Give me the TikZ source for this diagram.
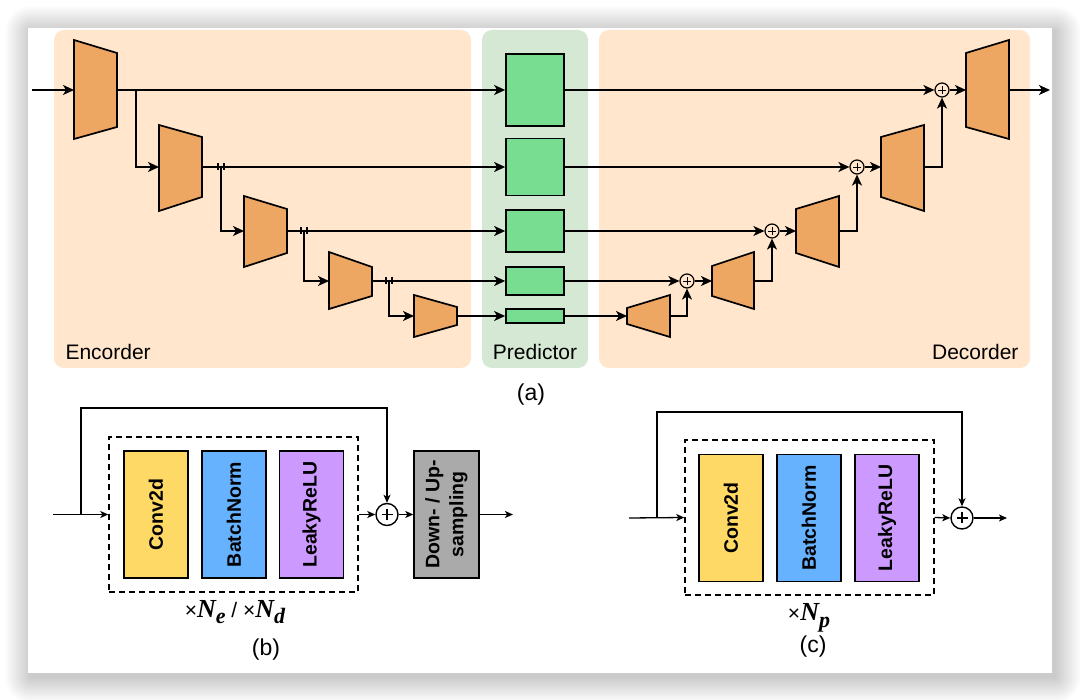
\documentclass[tikz,border=0pt]{standalone}
\usepackage{fontspec}
\setmainfont{Liberation Sans}
\newfontfamily\tnr{Liberation Serif}
\usetikzlibrary{arrows.meta,calc}
\definecolor{peach}{HTML}{FFE6CC}
\definecolor{sage}{HTML}{D5E8D4}
\definecolor{trap}{HTML}{EEA663}
\definecolor{pgreen}{HTML}{78DC91}
\definecolor{cyell}{HTML}{FFD966}
\definecolor{cblue}{HTML}{66B2FF}
\definecolor{cpurp}{HTML}{CC99FF}
\definecolor{cgray}{HTML}{AAAAAA}
\newcommand{\myNN}[2]{{\tnr\bfseries\itshape\fontsize{26}{30}\selectfont #1\raisebox{-6.5pt}{\fontsize{22}{26}\selectfont #2}}}
\begin{document}
\begin{tikzpicture}[x=1pt,y=-1pt,
  wire/.style={line width=1.6pt},
  arrA/.style={wire,-{Stealth[length=11pt,width=10pt,inset=3pt]}},
  wireB/.style={line width=1.3pt},
  arrB/.style={wireB,-{Stealth[length=8pt,width=7pt,inset=2pt]}},
  trapz/.style={fill=trap,draw=black,line width=1.7pt},
  pbox/.style={draw,fill=pgreen,line width=1.7pt,minimum width=58pt,inner sep=0pt},
  sumA/.style={circle,draw,line width=1.2pt,minimum size=14pt,inner sep=0pt,
    path picture={\draw[line width=0.9pt] (path picture bounding box.center) ++(-4pt,0pt) -- ++(8pt,0pt)
      (path picture bounding box.center) ++(0pt,-4pt) -- ++(0pt,8pt);}},
  sumB/.style={circle,draw,line width=1.4pt,minimum size=22pt,inner sep=0pt,
    path picture={\draw[line width=1.6pt] (path picture bounding box.center) ++(-5.5pt,0pt) -- ++(11pt,0pt)
      (path picture bounding box.center) ++(0pt,-5.5pt) -- ++(0pt,11pt);}},
  blk/.style={draw,line width=1.4pt,minimum width=64pt,minimum height=127pt,inner sep=0pt,
    font=\fontsize{19.5}{24}\selectfont\bfseries},
  dbox/.style={draw,line width=1.4pt,dash pattern=on 6pt off 4pt,inner sep=0pt},
  bglab/.style={font=\fontsize{21}{25}\selectfont},
  caplab/.style={font=\fontsize{23}{27}\selectfont}
]
\useasboundingbox (0,0) rectangle (1080,700);
\fill[white] (0,0) rectangle (1080,700);
% card shadow
\foreach \i in {1,...,26}{
  \fill[black,opacity=0.009,rounded corners=\i pt] (28-\i+3,28-\i+4) rectangle (1052+\i+3,673+\i+4);
}
\fill[white] (28,28) rectangle (1052,673);

% backgrounds
\fill[peach,rounded corners=10pt] (54,30) rectangle (471,368);
\fill[sage,rounded corners=10pt] (482,30) rectangle (588,368);
\fill[peach,rounded corners=10pt] (599,30) rectangle (1030,368);
\node[bglab,anchor=west] (lenc) at (62,352) {Encorder};
\node[bglab] (lpred) at (535,352) {Predictor};
\node[bglab,anchor=east] (ldec) at (1022,352) {Decorder};
\node[caplab] (la) at (531,395) {(a)};

% encoder trapezoids
\draw[trapz] (74,40) -- (117,53) -- (117,127) -- (74,139) -- cycle;
\draw[trapz] (159,125) -- (202,137) -- (202,197) -- (159,211) -- cycle;
\draw[trapz] (244,196) -- (287,209) -- (287,253) -- (244,267) -- cycle;
\draw[trapz] (329,252) -- (372,267) -- (372,296) -- (329,309) -- cycle;
\draw[trapz] (414,295) -- (457,307) -- (457,325) -- (414,337) -- cycle;
\coordinate (e1i) at (74,90);   \coordinate (e1o) at (117,90);
\coordinate (e2i) at (159,167); \coordinate (e2o) at (202,167);
\coordinate (e3i) at (244,231); \coordinate (e3o) at (287,231);
\coordinate (e4i) at (329,281); \coordinate (e4o) at (372,281);
\coordinate (e5i) at (414,316); \coordinate (e5o) at (457,316);

% decoder trapezoids
\draw[trapz] (627,308) -- (670,295) -- (670,337) -- (627,324) -- cycle;
\draw[trapz] (712,266) -- (754,252) -- (754,309) -- (712,296) -- cycle;
\draw[trapz] (796,209) -- (839,196) -- (839,267) -- (796,253) -- cycle;
\draw[trapz] (881,137) -- (924,125) -- (924,211) -- (881,197) -- cycle;
\draw[trapz] (966,53) -- (1009,40) -- (1009,139) -- (966,127) -- cycle;
\coordinate (d5i) at (627,316); \coordinate (d5o) at (670,316);
\coordinate (d4i) at (712,281); \coordinate (d4o) at (754,281);
\coordinate (d3i) at (796,231); \coordinate (d3o) at (839,231);
\coordinate (d2i) at (881,167); \coordinate (d2o) at (924,167);
\coordinate (d1i) at (966,90);  \coordinate (d1o) at (1009,90);

% predictor boxes
\node[pbox,minimum height=72pt] (p1) at (535,90) {};
\node[pbox,minimum height=57pt] (p2) at (535,167) {};
\node[pbox,minimum height=42pt] (p3) at (535,231) {};
\node[pbox,minimum height=28pt] (p4) at (535,281) {};
\node[pbox,minimum height=14pt] (p5) at (535,316) {};

% sums
\node[sumA] (s1) at (687,281) {};
\node[sumA] (s2) at (772,231) {};
\node[sumA] (s3) at (857,167) {};
\node[sumA] (s4) at (942,90) {};

% encoder wiring
\coordinate (in0) at (32,90);
\coordinate (out0) at (1050,90);
\coordinate (b1) at (136,90);
\coordinate (b2) at (221,167);
\coordinate (b3) at (304,231);
\coordinate (b4) at (389,281);
\draw[arrA] (in0) -- (e1i);
\draw[arrA] (e1o) -- (p1.west);
\draw[arrA] (b1) |- (e2i);
\draw[arrA] (e2o) -- (p2.west);
\draw[arrA] (b2) |- (e3i);
\draw[arrA] (e3o) -- (p3.west);
\draw[arrA] (b3) |- (e4i);
\draw[arrA] (e4o) -- (p4.west);
\draw[arrA] (b4) |- (e5i);
\draw[arrA] (e5o) -- (p5.west);
% jump ticks
\foreach \tx/\ty in {218/167,224/167,301/231,307/231,386/281,392/281}{
  \draw[line width=1.2pt] (\tx,\ty-3.5) -- (\tx,\ty+3.5);
}

% decoder wiring
\draw[arrA] (p5.east) -- (d5i);
\draw[arrA] (d5o) -| (s1.south);
\draw[arrA] (p4.east) -- (s1.west);
\draw[arrA] (s1.east) -- (d4i);
\draw[arrA] (d4o) -| (s2.south);
\draw[arrA] (p3.east) -- (s2.west);
\draw[arrA] (s2.east) -- (d3i);
\draw[arrA] (d3o) -| (s3.south);
\draw[arrA] (p2.east) -- (s3.west);
\draw[arrA] (s3.east) -- (d2i);
\draw[arrA] (d2o) -| (s4.south);
\draw[arrA] (p1.east) -- (s4.west);
\draw[arrA] (s4.east) -- (d1i);
\draw[arrA] (d1o) -- (out0);

% ---------- (b) ----------
\node[dbox,minimum width=249pt,minimum height=155pt] (dbb) at (233.5,514.5) {};
\node[blk,fill=cyell] (cb1) at (156,514.5) {\rotatebox{90}{Conv2d}};
\node[blk,fill=cblue] (cb2) at (234,514.5) {\rotatebox{90}{BatchNorm}};
\node[blk,fill=cpurp] (cb3) at (311.5,514.5) {\rotatebox{90}{LeakyReLU}};
\node[blk,fill=cgray,minimum width=65pt] (samp) at (446.5,514.5)
  {\rotatebox{90}{\begin{tabular}{@{}c@{}}Down- / Up-\\sampling\end{tabular}}};
\node[sumB] (sb) at (387,514.5) {};
\coordinate (bin) at (53,514.5);
\coordinate (bbr) at (81,514.5);
\coordinate (bup) at (81,408);
\coordinate (bout) at (513,514.5);
\draw[arrB] (bin) -- (dbb.west);
\draw[arrB] (bbr) -- (bup) -| (sb.north);
\draw[arrB] (dbb.east) -- (sb.west);
\draw[arrB] (sb.east) -- (samp.west);
\draw[arrB] (samp.east) -- (bout);
\node (lbN) at (235,612) {\fontsize{21}{25}\selectfont ×\myNN{N}{e} / ×\myNN{N}{d}};
\node[caplab] (lb) at (266,650) {(b)};

% ---------- (c) ----------
\node[dbox,minimum width=249pt,minimum height=155pt] (dbc) at (809.5,517.5) {};
\node[blk,fill=cyell] (cc1) at (731,518) {\rotatebox{90}{Conv2d}};
\node[blk,fill=cblue] (cc2) at (809,518) {\rotatebox{90}{BatchNorm}};
\node[blk,fill=cpurp] (cc3) at (887,518) {\rotatebox{90}{LeakyReLU}};
\node[sumB] (sc) at (962,518) {};
\coordinate (cin) at (629,518);
\coordinate (cbr) at (657,518);
\coordinate (cup) at (657,412);
\coordinate (cout) at (1007,518);
\draw[arrB] (cin) -- (dbc.west);
\draw[arrB] (cbr) -- (cup) -| (sc.north);
\draw[arrB] (dbc.east) -- (sc.west);
\draw[arrB] (sc.east) -- (cout);
\node (lcN) at (809,618) {\fontsize{21}{25}\selectfont ×\myNN{N}{p}};
\node[caplab] (lc) at (813,647) {(c)};
\end{tikzpicture}
\end{document}
